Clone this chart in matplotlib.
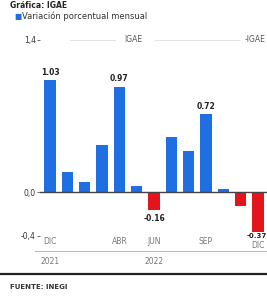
import matplotlib
matplotlib.use("Agg")
import matplotlib.pyplot as plt

months = ["DIC", "ENE", "FEB", "MAR", "ABR", "MAY", "JUN", "JUL", "AGO", "SEP", "OCT", "NOV", "DIC"]
values = [1.03, 0.19, 0.09, 0.43, 0.97, 0.06, -0.16, 0.51, 0.38, 0.72, 0.03, -0.13, -0.37]
shown_months = {0: "DIC", 4: "ABR", 6: "JUN", 9: "SEP", 12: "DIC"}
labelled = {0: "1.03", 4: "0.97", 6: "-0.16", 9: "0.72", 12: "-0.37"}
years = [(0, "2021"), (6, "2022")]
yticks = [1.4, 0.0, -0.4]
ytick_labels = ["1,4", "0,0", "-0,4"]

W, H = 267, 307
fig = plt.figure(figsize=(W / 100, H / 100), dpi=100)
fig.patch.set_facecolor("white")

ax = fig.add_axes([40 / W, 1 - 240 / H, 227 / W, 200 / H])
blue, red = "#1f6fe3", "#e3141c"
colors = [blue if v >= 0 else red for v in values]
x = list(range(len(values)))
ax.bar(x, values, width=0.65, color=colors, zorder=2)
ax.set_xlim(-0.58, 12.52)
ax.set_ylim(-0.44, 1.32)
ax.axhline(0, color="#444444", lw=1.0, zorder=3)
for s in ax.spines.values():
    s.set_visible(False)
ax.set_xticks([])
ax.set_yticks(yticks)
ax.set_yticklabels(ytick_labels, fontsize=5.5, color="#333333")
ax.tick_params(axis="y", length=2, width=0.6, color="#555555", pad=1)

for i, t in labelled.items():
    v = values[i]
    if i == len(values) - 1:
        ax.text(12.5, v - 0.005, t, ha="right", va="top", fontsize=5, fontweight="bold", color="#222222")
    elif v >= 0:
        ax.text(i, v + 0.03, t, ha="center", va="bottom", fontsize=5.5, fontweight="bold", color="#222222")
    else:
        ax.text(i, v - 0.04, t, ha="center", va="top", fontsize=5.5, fontweight="bold", color="#222222")


def fx(i):
    return ax.transData.transform((i, 0))[0] / W


fig.canvas.draw()
for i, t in shown_months.items():
    xf = fx(i)
    if i == len(values) - 1:
        fig.text(1 - 2 / W, 1 - 246 / H, t, ha="right", va="center", fontsize=5.5, color="#777777")
    else:
        fig.text(xf, 1 - 242 / H, t, ha="center", va="center", fontsize=5.5, color="#777777")

# thin line under months, year labels
fig.add_artist(plt.Line2D([35 / W, 1], [1 - 251 / H] * 2, color="#bbbbbb", lw=0.8))
for i, t in years:
    fig.text(fx(i), 1 - 262 / H, t, ha="center", va="center", fontsize=5.5, color="#777777")

# bottom thick rule and source
fig.add_artist(plt.Line2D([0.0, 1], [1 - 274 / H] * 2, color="#222222", lw=1.6))
fig.text(10 / W, 1 - 287 / H, "FUENTE: INEGI", ha="left", va="center", fontsize=5, fontweight="bold", color="#333333")

# header texts
fig.text(10 / W, 1 - 0.5 / H, "Gráfica: IGAE", ha="left", va="top", fontsize=5.5, fontweight="bold", color="#222222")
fig.text(14 / W, 1 - 16 / H, "■", ha="left", va="center", fontsize=5.5, color=blue)
fig.text(22 / W, 1 - 16 / H, "Variación porcentual mensual", ha="left", va="center", fontsize=6, color="#333333")
fig.text(133 / W, 1 - 40 / H, "IGAE", ha="center", va="center", fontsize=5.5, color="#555555")
fig.text(245 / W, 1 - 40 / H, "-IGAE", ha="left", va="center", fontsize=5.5, color="#555555")
fig.add_artist(plt.Line2D([70 / W, 115 / W], [1 - 40 / H] * 2, color="#dddddd", lw=0.6))
fig.add_artist(plt.Line2D([155 / W, 240 / W], [1 - 40 / H] * 2, color="#dddddd", lw=0.6))

fig.savefig("out.png", dpi=100, facecolor="white")
